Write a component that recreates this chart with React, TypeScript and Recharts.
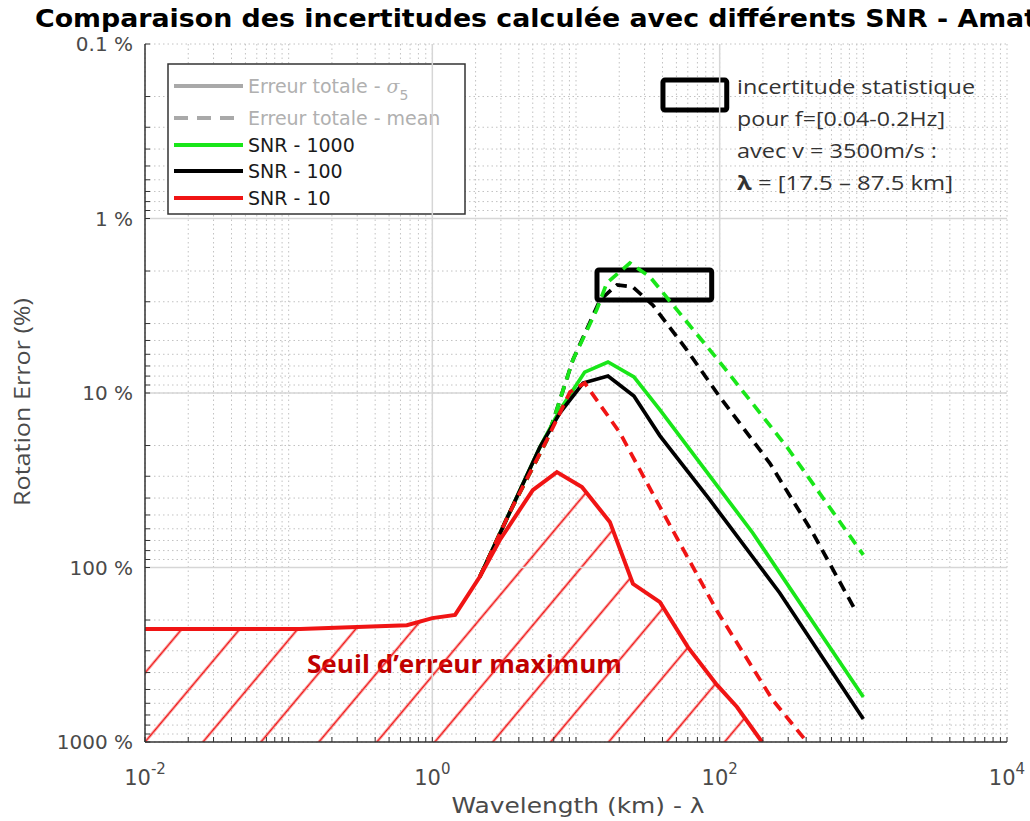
import React from 'react';
import {
  ComposedChart,
  Line,
  Area,
  XAxis,
  YAxis,
  CartesianGrid,
  ReferenceLine,
  ReferenceArea,
} from 'recharts';

const W = 1030;
const H = 821;

// ---- Series data: wavelength (km) / rotation error (%) ----
const snr10SigmaX = [0.01, 0.12, 0.665, 1.0, 1.44, 2.14, 2.95, 5.0, 7.36, 11.0, 17.2, 24.9, 38.4, 60.1, 95.7, 132, 197];
const snr10SigmaY = [225, 225, 214, 195, 187, 113, 69.5, 36, 28.4, 34.6, 54.8, 124, 158, 286, 471, 630, 1000];

const snr10MeanX = [2.14, 3.47, 6.27, 9.08, 11.5, 20.2, 38.4, 95.7, 234, 405];
const snr10MeanY = [113, 48, 18.6, 9.86, 8.77, 16.9, 45, 177, 574, 1000];

const snr100SigmaX = [2.14, 3.47, 5.61, 7.73, 11.2, 16.7, 25.3, 38.4, 85.5, 262, 1000];
const snr100SigmaY = [113, 48, 20.4, 13.0, 8.77, 8.0, 10.4, 17.6, 41, 140, 738];

const snr1000SigmaX = [2.14, 3.47, 5.61, 7.73, 11.5, 16.7, 25.3, 38.4, 170, 1000];
const snr1000SigmaY = [113, 48, 20.4, 12.5, 7.59, 6.64, 8.09, 12.5, 63.4, 552];

const snr100MeanX = [2.14, 3.47, 6.27, 9.51, 14.7, 19.3, 24.9, 34.3, 59.2, 100, 223, 445, 901];
const snr100MeanY = [113, 48, 18.6, 6.47, 2.93, 2.4, 2.47, 3.14, 5.68, 10.5, 25.2, 63.4, 182];

const snr1000MeanX = [2.14, 3.47, 6.27, 9.51, 14.0, 16.4, 23.7, 32.7, 100, 294, 1000];
const snr1000MeanY = [113, 48, 18.6, 6.47, 3.3, 2.34, 1.8, 2.16, 6.64, 20.4, 84.7];

// statistic-uncertainty box (lambda range, error range)
const statBoxX = [14, 88];
const statBoxY = [1.97, 2.93];
// legend-key box of the annotation
const keyBoxX = [40.3, 112];
const keyBoxY = [0.161, 0.239];

// ---- Axes ----
const xDomain = [0.01, 10000];
const yDomain = [0.1, 1000];
const xDecades = [0.01, 0.1, 1, 10, 100, 1000];
const yDecades = [0.1, 1, 10, 100];
const minorSteps = [1, 2, 3, 4, 5, 6, 7, 8, 9];
const xTicks = [...xDecades.flatMap((d) => minorSteps.map((m) => +(d * m).toPrecision(3))), 10000];
const yTicks = [...yDecades.flatMap((d) => minorSteps.map((m) => +(d * m).toPrecision(3))), 1000];
const xLabelTicks = [0.01, 1, 100, 10000];
const xLabelExponents = ['-2', '0', '2', '4'];
const yLabelTicks = [0.1, 1, 10, 100, 1000];
const yTickLabels = ['0.1 %', '1 %', '10 %', '100 %', '1000 %'];
const xMajorGrid = [1, 100];
const yMajorGrid = [1, 10, 100];

const zip = (xs: number[], ys: number[]) => xs.map((x, i) => ({ x, y: ys[i] }));

const snr10Sigma = zip(snr10SigmaX, snr10SigmaY);
const snr10Mean = zip(snr10MeanX, snr10MeanY);
const snr100Sigma = zip(snr100SigmaX, snr100SigmaY);
const snr100Mean = zip(snr100MeanX, snr100MeanY);
const snr1000Sigma = zip(snr1000SigmaX, snr1000SigmaY);
const snr1000Mean = zip(snr1000MeanX, snr1000MeanY);

const GREEN = '#19e619';
const RED = '#f01414';
const BLACK = '#000000';
const AXIS = '#333333';
const TICKTXT = '#4a4a4a';
const DEJAVU = '"DejaVu Sans", sans-serif';
const CAL = '"Open Sans", sans-serif';

const near = (a: number, b: number) => Math.abs(a - b) / b < 1e-6;

const BottomTick = (props: any) => {
  const { x, y, payload } = props;
  const idx = xLabelTicks.findIndex((t) => near(payload.value, t));
  return (
    <g>
      <line x1={x} x2={x} y1={y} y2={y - 5} stroke={AXIS} strokeWidth={1} />
      {idx >= 0 && (
        <text x={x} y={y + 43} textAnchor="middle" fontFamily={DEJAVU} fontSize={21} fill={TICKTXT}>
          10
          <tspan dy={-11} fontSize={15}>
            {xLabelExponents[idx]}
          </tspan>
        </text>
      )}
    </g>
  );
};

const TopTick = (props: any) => {
  const { x, y } = props;
  return <line x1={x} x2={x} y1={y} y2={y + 5} stroke={AXIS} strokeWidth={1} />;
};

const LeftTick = (props: any) => {
  const { x, y, payload } = props;
  const idx = yLabelTicks.findIndex((t) => near(payload.value, t));
  return (
    <g>
      <line x1={x} x2={x + 5} y1={y} y2={y} stroke={AXIS} strokeWidth={1} />
      {idx >= 0 && (
        <text x={x - 12} y={y + 7} textAnchor="end" fontFamily={DEJAVU} fontSize={20} fill={TICKTXT}>
          {yTickLabels[idx]}
        </text>
      )}
    </g>
  );
};

const RightTick = (props: any) => {
  const { x, y } = props;
  return <line x1={x} x2={x - 5} y1={y} y2={y} stroke={AXIS} strokeWidth={1} />;
};

const legendRows = [
  { label: 'sigma', color: '#a9a9a9', dash: undefined as string | undefined, text: '#b0b0b0', y: 86 },
  { label: 'Erreur totale - mean', color: '#a9a9a9', dash: '14 9', text: '#b0b0b0', y: 118 },
  { label: 'SNR - 1000', color: GREEN, dash: undefined, text: '#1a1a1a', y: 145 },
  { label: 'SNR - 100', color: BLACK, dash: undefined, text: '#1a1a1a', y: 171 },
  { label: 'SNR - 10', color: RED, dash: undefined, text: '#1a1a1a', y: 198 },
];

export default function App() {
  return (
    <div style={{ position: 'absolute', left: 0, top: 0, width: W, height: H, background: '#fff', overflow: 'hidden' }}>
      <ComposedChart width={W} height={H} margin={{ top: 44, right: 23, bottom: 0, left: 0 }}>
        <defs>
          <pattern
            id="hatch"
            patternUnits="userSpaceOnUse"
            width={44.4}
            height={44.4}
            patternTransform="translate(145,742) rotate(40) translate(-22.2,0)"
          >
            <line x1={22.2} y1={-2} x2={22.2} y2={46.4} stroke={RED} strokeWidth={1.8} />
          </pattern>
        </defs>

        <XAxis
          xAxisId={0}
          dataKey="x"
          type="number"
          scale="log"
          domain={xDomain}
          allowDataOverflow
          ticks={xTicks}
          interval={0}
          tick={<BottomTick />}
          tickLine={false}
          tickSize={0}
          tickMargin={0}
          height={79}
          axisLine={{ stroke: AXIS, strokeWidth: 1.5 }}
        />
        <XAxis
          xAxisId="top"
          orientation="top"
          dataKey="x"
          type="number"
          scale="log"
          domain={xDomain}
          allowDataOverflow
          ticks={xTicks}
          interval={0}
          tick={<TopTick />}
          tickLine={false}
          tickSize={0}
          tickMargin={0}
          height={0}
          axisLine={{ stroke: AXIS, strokeWidth: 1.5 }}
        />
        <YAxis
          yAxisId={0}
          type="number"
          scale="log"
          domain={yDomain}
          reversed
          allowDataOverflow
          ticks={yTicks}
          interval={0}
          tick={<LeftTick />}
          tickLine={false}
          tickSize={0}
          tickMargin={0}
          width={145}
          axisLine={{ stroke: AXIS, strokeWidth: 1.5 }}
        />
        <YAxis
          yAxisId="right"
          orientation="right"
          type="number"
          scale="log"
          domain={yDomain}
          reversed
          allowDataOverflow
          ticks={yTicks}
          interval={0}
          tick={<RightTick />}
          tickLine={false}
          tickSize={0}
          tickMargin={0}
          width={0}
          axisLine={{ stroke: AXIS, strokeWidth: 1.5 }}
        />

        <CartesianGrid xAxisId={0} yAxisId={0} stroke="#c2c2c2" strokeDasharray="1.5 3" strokeWidth={1} />
        {xMajorGrid.map((v) => (
          <ReferenceLine key={'gx' + v} x={v} stroke="#d6d6d6" strokeWidth={1.5} />
        ))}
        {yMajorGrid.map((v) => (
          <ReferenceLine key={'gy' + v} y={v} stroke="#d6d6d6" strokeWidth={1.5} />
        ))}

        <Area
          data={snr10Sigma}
          dataKey="y"
          type="linear"
          baseValue={1000}
          fill="url(#hatch)"
          fillOpacity={1}
          stroke="none"
          isAnimationActive={false}
        />

        <Line data={snr100Mean} dataKey="y" type="linear" stroke={BLACK} strokeWidth={3.7} strokeDasharray="11 7" dot={false} isAnimationActive={false} />
        <Line data={snr1000Mean} dataKey="y" type="linear" stroke={GREEN} strokeWidth={3.7} strokeDasharray="11 7" dot={false} isAnimationActive={false} />
        <Line data={snr1000Sigma} dataKey="y" type="linear" stroke={GREEN} strokeWidth={3.7} dot={false} isAnimationActive={false} />
        <Line data={snr100Sigma} dataKey="y" type="linear" stroke={BLACK} strokeWidth={3.7} dot={false} isAnimationActive={false} />
        <Line data={snr10Mean} dataKey="y" type="linear" stroke={RED} strokeWidth={3.7} strokeDasharray="11 7" dot={false} isAnimationActive={false} />
        <Line data={snr10Sigma} dataKey="y" type="linear" stroke={RED} strokeWidth={4} dot={false} isAnimationActive={false} />

        <ReferenceArea x1={statBoxX[0]} x2={statBoxX[1]} y1={statBoxY[0]} y2={statBoxY[1]} fill="none" fillOpacity={0} stroke="#000" strokeWidth={5} radius={2} />
        <ReferenceArea x1={keyBoxX[0]} x2={keyBoxX[1]} y1={keyBoxY[0]} y2={keyBoxY[1]} fill="none" fillOpacity={0} stroke="#000" strokeWidth={5} radius={2} />

        {/* Title */}
        <text x={35} y={27} fontFamily={DEJAVU} fontWeight="bold" fontSize={24} fill="#000" textLength={1002} lengthAdjust="spacingAndGlyphs">
          Comparaison des incertitudes calculée avec différents SNR - Amat
        </text>

        {/* Axis titles */}
        <text x={578} y={813} textAnchor="middle" fontFamily={DEJAVU} fontSize={21} fill={TICKTXT} textLength={253} lengthAdjust="spacingAndGlyphs">
          Wavelength (km) - λ
        </text>
        <text
          x={0}
          y={0}
          transform="translate(30,402) rotate(-90)"
          textAnchor="middle"
          fontFamily={CAL}
          fontSize={22}
          fill={TICKTXT}
          textLength={208}
          lengthAdjust="spacingAndGlyphs"
        >
          Rotation Error (%)
        </text>

        {/* Legend */}
        <g>
          <rect x={168} y={64} width={297} height={150} fill="#fff" stroke={AXIS} strokeWidth={1.5} />
          {legendRows.map((r) => (
            <g key={r.label}>
              <line x1={174} x2={243} y1={r.y} y2={r.y} stroke={r.color} strokeWidth={4} strokeDasharray={r.dash} />
              {r.label === 'sigma' ? (
                <text x={248} y={r.y + 7} fontFamily={DEJAVU} fontSize={19} fill={r.text}>
                  Erreur totale -{' '}
                  <tspan fontStyle="italic" fontFamily="'DejaVu Serif', serif">σ</tspan>
                  <tspan dy={7} fontSize={14}>5</tspan>
                </text>
              ) : (
                <text x={248} y={r.y + 7} fontFamily={DEJAVU} fontSize={19} fill={r.text}>
                  {r.label}
                </text>
              )}
            </g>
          ))}
        </g>

        {/* Annotation */}
        <g fontFamily={CAL} fontSize={20} fill="#333">
          <text x={737} y={94} textLength={238} lengthAdjust="spacingAndGlyphs">incertitude statistique</text>
          <text x={737} y={126} textLength={208} lengthAdjust="spacingAndGlyphs">pour f=[0.04-0.2Hz]</text>
          <text x={737} y={158} textLength={200} lengthAdjust="spacingAndGlyphs">avec v = 3500m/s :</text>
          <text x={737} y={190} textLength={216} lengthAdjust="spacingAndGlyphs">
            <tspan fontWeight="bold">λ</tspan> = [17.5 – 87.5 km]
          </text>
        </g>

        <text x={307} y={673} fontFamily={CAL} fontWeight="bold" fontSize={25} fill="#c00000" textLength={315} lengthAdjust="spacingAndGlyphs">
          Seuil d’erreur maximum
        </text>
      </ComposedChart>
    </div>
  );
}
